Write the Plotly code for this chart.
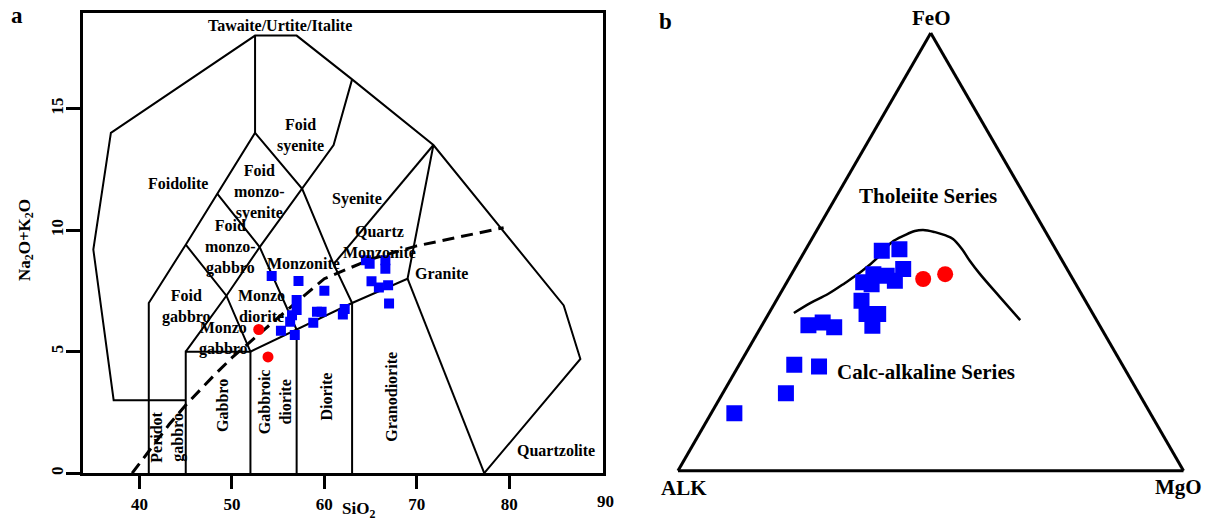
import plotly.graph_objects as go

FONT = "Liberation Serif"
BLUE = "#0000FF"
RED = "#FF0000"

# ---------------- Panel a: plutonic TAS diagram ----------------
# samples (SiO2 wt%, Na2O+K2O wt%)
sio2_blue = [54.3, 57.2, 60.0, 57.0, 57.0, 56.5, 56.3, 55.3, 56.8, 59.2, 59.7, 58.8,
             62.2, 62.0, 64.5, 64.9, 66.6, 66.6, 65.1, 65.9, 66.9, 67.0]
alk_blue = [8.11, 7.91, 7.50, 7.12, 6.71, 6.50, 6.23, 5.86, 5.68, 6.64, 6.64, 6.19,
            6.75, 6.53, 8.76, 8.62, 8.76, 8.41, 7.90, 7.64, 7.73, 6.98]
sio2_red = [52.9, 53.9]
alk_red = [5.91, 4.78]

# field boundaries (SiO2, Na2O+K2O)
outline_x = [45, 37.2, 35, 36.9, 52.5, 57, 63, 71.8, 85.9, 87.7, 77.3]
outline_y = [3, 3, 9.2, 14, 18, 18, 16.2, 13.5, 6.9, 4.7, 0]
foid_gabbro_left_x = [41, 41, 45, 48.4, 52.5, 52.5]
foid_gabbro_left_y = [0, 7, 9.4, 11.5, 14, 18]
monzo_ridge_x = [45, 49.4, 53, 57.6, 61, 63]
monzo_ridge_y = [5, 7.3, 9.3, 11.7, 13.5, 16.2]
foid_syenite_base_x = [52.5, 57.6, 61, 63]
foid_syenite_base_y = [14, 11.7, 8.6, 7]
monzogabbro_x = [45, 49.4, 52]
monzogabbro_y = [9.4, 7.3, 5]
monzodiorite_x = [48.4, 53, 57]
monzodiorite_y = [11.5, 9.3, 5.9]
subalkaline_top_x = [45, 45, 52, 57, 63, 69, 71.8]
subalkaline_top_y = [0, 5, 5, 5.9, 7, 8, 13.5]
gabbro_div_x = [52, 52]
gabbro_div_y = [0, 5]
diorite_div_x = [57, 57]
diorite_div_y = [0, 5.9]
granodiorite_div_x = [63, 63]
granodiorite_div_y = [0, 7]
granite_div_x = [69, 77.3]
granite_div_y = [8, 0]
syenite_div_x = [61, 71.8]
syenite_div_y = [8.6, 13.5]

boundaries = [
    (outline_x, outline_y), (foid_gabbro_left_x, foid_gabbro_left_y),
    (monzo_ridge_x, monzo_ridge_y), (foid_syenite_base_x, foid_syenite_base_y),
    (monzogabbro_x, monzogabbro_y), (monzodiorite_x, monzodiorite_y),
    (subalkaline_top_x, subalkaline_top_y), (gabbro_div_x, gabbro_div_y),
    (diorite_div_x, diorite_div_y), (granodiorite_div_x, granodiorite_div_y),
    (granite_div_x, granite_div_y), (syenite_div_x, syenite_div_y),
]

# alkaline / subalkaline divide
ib_x = [39.2, 40, 43.2, 45, 48, 50, 53.7, 55, 60, 65, 70, 79.4]
ib_y = [0, 0.4, 2, 2.8, 4, 4.75, 6, 6.4, 8, 8.8, 9.35, 10.1]

# field names
field_names = ["Tawaite/Urtite/Italite", "Foid<br>syenite", "Foidolite",
               "Foid<br>monzo-<br>syenite", "Foid<br>monzo-<br>gabbro", "Foid<br>gabbro",
               "Monzonite", "Monzo<br>diorite", "Monzo<br>gabbro", "Syenite",
               "Quartz<br>Monzonite", "Granite", "Quartzolite",
               "Peridot<br>gabbro", "Gabbro", "Gabbroic<br>diorite", "Diorite", "Granodiorite"]
field_x = [55.2, 57.4, 44.2, 53.0, 49.8, 45.1, 57.7, 53.2, 49.1, 63.5,
           66.0, 72.7, 85.1, 43.0, 48.9, 54.6, 60.25, 67.3]
field_y = [18.4, 13.9, 11.9, 11.55, 9.29, 6.86, 8.62, 6.86, 5.53, 11.27,
           9.5, 8.2, 0.93, 1.47, 2.8, 2.94, 3.14, 3.14]
field_angle = [0, 0, 0, 0, 0, 0, 0, 0, 0, 0, 0, 0, 0, -90, -90, -90, -90, -90]

# ---------------- Panel b: AFM diagram ----------------
afm_blue_alk = [82.3, 69.8, 64.9, 60.2, 57.6, 54.5, 52.7, 34.6, 30.9, 32.4,
                38.9, 36.4, 35.4, 41.8, 40.4, 44.3, 42.5, 44.8, 45.0]
afm_blue_feo = [13.1, 17.7, 24.2, 23.8, 33.2, 33.9, 32.8, 50.3, 50.6, 46.1,
                44.9, 44.5, 43.4, 43.0, 42.6, 38.8, 35.8, 35.8, 33.1]
afm_blue_mgo = [4.6, 12.5, 10.9, 16.0, 9.2, 11.7, 14.5, 15.2, 18.5, 21.5,
                16.2, 19.0, 21.2, 15.1, 17.0, 16.9, 21.7, 19.4, 21.9]
afm_red_alk = [29.6, 24.7]
afm_red_feo = [43.8, 44.9]
afm_red_mgo = [26.6, 30.4]

# tholeiitic / calc-alkaline boundary
div_alk = [59.0, 54.7, 50.2, 45.5, 40.8, 36.0, 31.6, 28.2, 25.8, 24.0, 21.9, 20.3,
           19.1, 18.5, 18.3, 17.8, 16.5, 15.1]
div_feo = [36.0, 38.3, 40.4, 42.9, 45.6, 48.8, 52.2, 53.8, 54.8, 55.0, 54.5, 53.8,
           52.9, 50.6, 47.9, 44.9, 39.7, 34.4]
div_mgo = [4.9, 7.0, 9.5, 11.6, 13.6, 15.2, 16.2, 18.0, 19.5, 21.0, 23.6, 25.9,
           27.9, 30.9, 33.8, 37.3, 43.9, 50.5]

fig = go.Figure()

for bx, by in boundaries:
    fig.add_trace(go.Scatter(x=bx, y=by, mode="lines",
                             line=dict(color="black", width=2), hoverinfo="skip"))

fig.add_trace(go.Scatter(x=ib_x, y=ib_y, mode="lines",
                         line=dict(color="black", width=3, dash="12px,7px"),
                         hoverinfo="skip"))

fig.add_trace(go.Scatter(x=sio2_blue, y=alk_blue, mode="markers",
                         marker=dict(symbol="square", size=10, color=BLUE,
                                     line=dict(width=0))))
fig.add_trace(go.Scatter(x=sio2_red, y=alk_red, mode="markers",
                         marker=dict(symbol="circle", size=11, color=RED,
                                     line=dict(width=0))))

fig.add_trace(go.Scatterternary(a=div_feo, b=div_alk, c=div_mgo, mode="lines",
                                line=dict(color="black", width=2.5, shape="spline"),
                                hoverinfo="skip"))
fig.add_trace(go.Scatterternary(a=afm_blue_feo, b=afm_blue_alk, c=afm_blue_mgo,
                                mode="markers",
                                marker=dict(symbol="square", size=16, color=BLUE,
                                            line=dict(width=0))))
fig.add_trace(go.Scatterternary(a=afm_red_feo, b=afm_red_alk, c=afm_red_mgo,
                                mode="markers",
                                marker=dict(symbol="circle", size=16, color=RED,
                                            line=dict(width=0))))

annotations = []
for name, fx, fy, ang in zip(field_names, field_x, field_y, field_angle):
    annotations.append(dict(text=name, x=fx, y=fy, xref="x", yref="y",
                            showarrow=False, textangle=ang,
                            font=dict(family=FONT, size=16, color="black", weight="bold")))

def paper_text(text, px, py, size, angle=0):
    return dict(text=text, x=px / 1208, y=1 - py / 522, xref="paper", yref="paper",
                showarrow=False, textangle=angle, xanchor="center", yanchor="middle",
                font=dict(family=FONT, size=size, color="black", weight="bold"))

annotations += [
    paper_text("a", 17, 16, 23),
    paper_text("b", 665, 22, 23),
    paper_text("Na<sub>2</sub>O+K<sub>2</sub>O", 26, 241, 17, -90),
    paper_text("SiO<sub>2</sub>", 358, 512, 17),
    paper_text("90", 605, 503, 17),
    paper_text("FeO", 931, 18, 21),
    paper_text("ALK", 684, 490, 21),
    paper_text("MgO", 1178, 489, 21),
    paper_text("Tholeiite Series", 928, 197, 21),
    paper_text("Calc-alkaline Series", 926, 373, 21),
]

tern_axis = dict(showline=True, linecolor="black", linewidth=3, showgrid=False,
                 showticklabels=False, ticks="", title=dict(text=""))

fig.update_layout(
    width=1208, height=522,
    margin=dict(l=0, r=0, t=0, b=0),
    paper_bgcolor="white", plot_bgcolor="white",
    showlegend=False,
    font=dict(family=FONT, color="black"),
    xaxis=dict(domain=[82.7 / 1208, 603 / 1208], range=[33.85, 90.15],
               tickvals=[40, 50, 60, 70, 80], ticks="outside", ticklen=13, tickwidth=3,
               tickcolor="black", showline=True, linewidth=3, linecolor="black",
               mirror=True, showgrid=False, zeroline=False,
               tickfont=dict(family=FONT, size=17, color="black", weight="bold")),
    yaxis=dict(domain=[1 - 475 / 522, 1 - 13.3 / 522], range=[0, 18.92],
               tickvals=[0, 5, 10, 15], tickangle=-90, ticks="outside", ticklen=14,
               tickwidth=3, tickcolor="black", showline=True, linewidth=3,
               linecolor="black", mirror=True, showgrid=False, zeroline=False,
               ticklabelstandoff=-4,
               tickfont=dict(family=FONT, size=17, color="black", weight="bold")),
    ternary=dict(domain=dict(x=[678 / 1208, 1183.5 / 1208],
                             y=[1 - 474.8 / 522, 1 - 30.8 / 522]),
                 sum=100, bgcolor="white",
                 aaxis=tern_axis, baxis=tern_axis, caxis=tern_axis),
    annotations=annotations,
)

fig.write_html("out.html")
